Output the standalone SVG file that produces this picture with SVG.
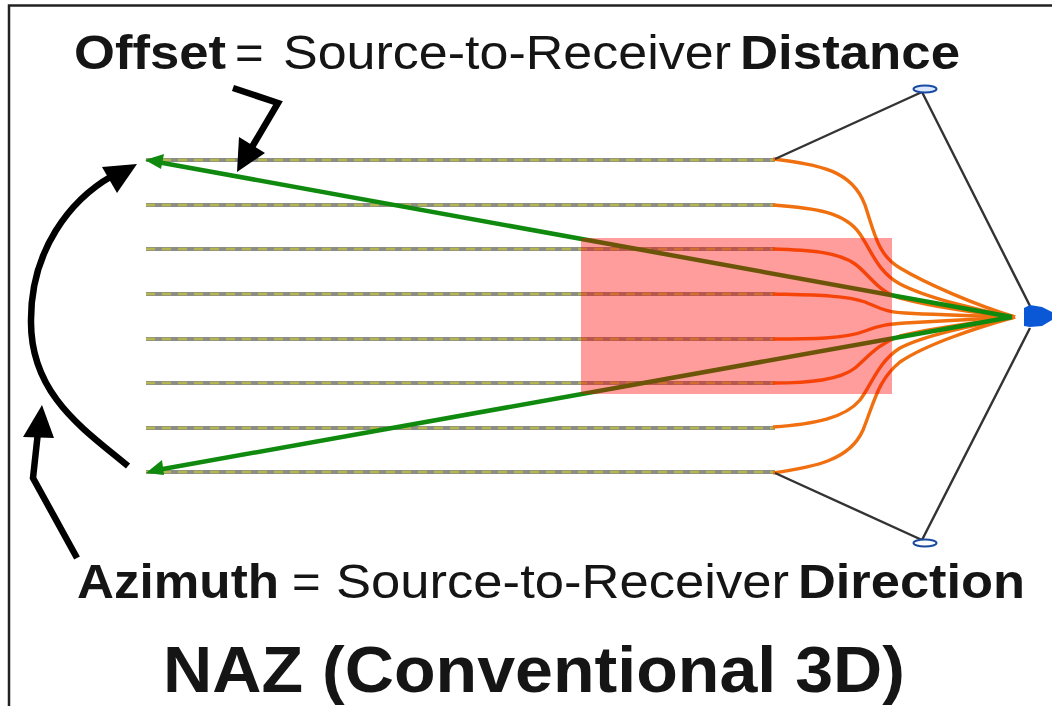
<svg xmlns="http://www.w3.org/2000/svg" width="1052" height="706" viewBox="0 0 1052 706">
<style>
text{font-family:"Liberation Sans",Arial,sans-serif;fill:#151515}
.l{font-size:49px}
.b{font-weight:bold}
.st{stroke:#8c8e86;stroke-width:4;fill:none}
.sd{stroke:#b4b650;stroke-width:2.4;stroke-dasharray:9 7;fill:none}
.c{fill:none;stroke-width:3.4;stroke:#f07010}
.k{fill:none;stroke:#333;stroke-width:2.4}
.a{fill:none;stroke:#000;stroke-width:6.5}
.g{fill:none;stroke:#0f8a0f;stroke-width:4.5}
</style>
<rect width="1052" height="706" fill="#fff"/>
<path d="M9 706V5.500H1052" fill="none" stroke="#222" stroke-width="2.500"/>
<g id="connectors">
<g id="streamers">
<path class="st" d="M146 160H775M146 205H775M146 249H775M146 294H775M146 339H775M146 383H775M146 428H775M146 472H775"/>
<path class="sd" d="M146 160H775M146 205H775M146 249H775M146 294H775M146 339H775M146 383H775M146 428H775M146 472H775"/>
</g>
<g id="tails">
<path class="c" d="M773 159C820 165 852 170 865 205C875 235 878 255 900 268C925 283 975 305 1015 317"/>
<path class="c" d="M773 205C815 208 845 212 860 234C872 252 878 272 900 284C925 297 975 310 1015 317"/>
<path class="c" d="M773 249C810 250 838 252 855 264C870 275 878 292 900 298C930 306 980 314 1015 317"/>
<path class="c" d="M773 294C810 295 845 295 865 302C880 308 885 312 905 313C940 315 980 316 1015 317"/>
<path class="c" d="M773 339C810 339 845 339 865 331C880 325 890 324 905 323C940 321 980 319 1015 317"/>
<path class="c" d="M773 383C810 383 840 380 855 368C870 355 878 344 900 336C930 328 980 322 1015 317"/>
<path class="c" d="M773 427C815 424 845 418 860 400C872 384 878 362 900 348C925 335 975 325 1015 317"/>
<path class="c" d="M773 473C815 467 850 460 863 430C875 400 878 380 900 362C925 345 975 328 1015 317"/>
</g>
<path class="k" d="M775 159L922 92L1030 306M775 473L922 540L1030 328"/>
<g id="rays">
<path class="g" d="M160 162.500L1012 317M160 469.500L1012 317"/>
<path d="M145 160L164 154L161 169Z" fill="#0f8a0f"/>
<path d="M146 473L162 460L164 475Z" fill="#0f8a0f"/>
</g>
</g>
<rect id="zone" x="581" y="238" width="311" height="156" fill="#ff0000" fill-opacity="0.39"/>
<g id="pointers">
<path class="a" d="M128 466C85 430 30 395 31 320C31 250 70 200 112 176"/>
<path d="M137 164L102 167L117 193Z" fill="#000"/>
<path class="a" d="M233 88L278 103L252 147"/>
<path d="M237 172L239 137L265 153Z" fill="#000"/>
<path class="a" d="M77 558L33 478L38 432"/>
<path d="M42 405L23 437L54 438Z" fill="#000"/>
</g>
<g id="hydrophone-top"><ellipse cx="925" cy="89" rx="11.500" ry="3.500" fill="#dbe8ff" stroke="#1a4aa0" stroke-width="2"/></g>
<g id="hydrophone-bottom"><ellipse cx="925" cy="543" rx="11.500" ry="3.500" fill="#fff" stroke="#1a4aa0" stroke-width="2"/></g>
<g id="vessel"><path d="M1024 308L1030 305L1042 307L1052 312V320L1042 326L1030 327L1024 326Z" fill="#0a58d6"/></g>
<g id="labels">
<text class="l b" x="74" y="69" textLength="152" lengthAdjust="spacingAndGlyphs">Offset</text>
<text class="l" x="235" y="69">=</text>
<text class="l" x="283" y="69" textLength="448" lengthAdjust="spacingAndGlyphs">Source-to-Receiver</text>
<text class="l b" x="740" y="69" textLength="220" lengthAdjust="spacingAndGlyphs">Distance</text>
<text class="l b" x="77" y="598" textLength="202" lengthAdjust="spacingAndGlyphs">Azimuth</text>
<text class="l" x="292" y="598">=</text>
<text class="l" x="336" y="598" textLength="453" lengthAdjust="spacingAndGlyphs">Source-to-Receiver</text>
<text class="l b" x="798" y="598" textLength="227" lengthAdjust="spacingAndGlyphs">Direction</text>
<text class="b" x="163" y="692" font-size="64" textLength="742" lengthAdjust="spacingAndGlyphs">NAZ (Conventional 3D)</text>
</g>
</svg>
